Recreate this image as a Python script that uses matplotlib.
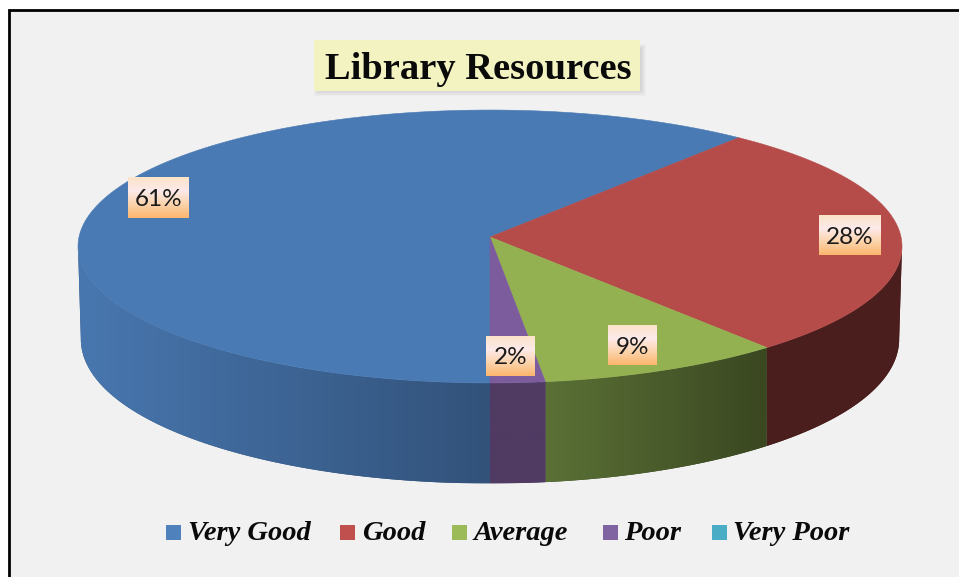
import numpy as np
import matplotlib
matplotlib.use('Agg')
import matplotlib.pyplot as plt
from matplotlib.colors import LinearSegmentedColormap
from matplotlib.patches import Polygon, Rectangle

title = 'Library Resources'
categories = ['Very Good', 'Good', 'Average', 'Poor', 'Very Poor']
values = [61, 28, 9, 2, 0]
top_colors = ['#4a7ab4', '#b54c49', '#94b152', '#7c5c9c', '#4bacc6']
legend_colors = ['#4f81bd', '#c0504d', '#9bbb59', '#8064a2', '#4bacc6']
# colour of the side wall, left end and right end of the gradient
side_colors = [('#4877af', '#32527a'), ('#4b1e1e', '#4b1e1e'), ('#5b7136', '#3a4721'),
               ('#503b63', '#503b63'), ('#4bacc6', '#4bacc6')]

# pie geometry in pixels (perspective ellipse)
CX, CY = 490, 237
A, B, K = 411, 135.8, 0.0696
START = 180

# where things sit in the picture
label_boxes = [(128, 177, 61, 41), (819, 215, 62, 40), (608, 325, 49, 40), (486, 336, 49, 40)]
legend_x = [166, 340, 452, 603, 712]
legend_text_x = [188, 362, 473, 624, 733]

plt.rcParams['font.family'] = ['Liberation Serif', 'DejaVu Sans']

fig = plt.figure(figsize=(9.59, 5.77), dpi=100, facecolor='white')
ax = fig.add_axes([0, 0, 1, 1])


def edge(theta, lower=False):
    # theta in degrees, clockwise from the back of the pie
    t = np.radians(theta)
    u, v = np.sin(t), -np.cos(t)
    w = 1 - K * v
    x, y = CX + A * u / w, CY + B * v / w
    if lower:
        # wall is a bit shorter and narrower towards the back
        x = CX + (x - CX) * (1 - 0.007 * np.abs(u) ** 6)
        y = y + 91.5 + 9 * v
    return x, y


def gradient(x0, y0, w, h, colors, horizontal=True, clip=None, zorder=3):
    cmap = LinearSegmentedColormap.from_list('g', colors)
    grad = np.linspace(0, 1, 256)
    grad = grad[None, :] if horizontal else grad[:, None]
    im = ax.imshow(grad, cmap=cmap, extent=(x0, x0 + w, y0 + h, y0), aspect='auto',
                   interpolation='bilinear', zorder=zorder)
    if clip is not None:
        im.set_clip_path(clip)
    return im


# background and frame
ax.add_patch(Rectangle((9, 10), 970, 590, fc='#f1f1f1', ec='black', lw=2, zorder=1))

# title box with its soft shadow
for i in range(6):
    ax.add_patch(Rectangle((314 + i, 44 + i), 332 - 2 * i, 52 - 2 * i, fc='black', ec='none',
                           alpha=0.018, zorder=2))
ax.add_patch(Rectangle((314, 40), 326, 51, fc='#f3f3c1', ec='none', zorder=2))
ax.text(478, 79, title, ha='center', va='baseline', fontsize=27.7, fontweight='bold',
        color='#0a0a0a', zorder=3)

# slice angles come from the values
shares = np.array(values) / sum(values) * 360
ends = START + np.cumsum(shares)
starts = ends - shares

# side walls, only the front part shows
front_a, front_b = 94, 266
for s, e, cols in zip(starts, ends, side_colors):
    lo, hi = max(s, front_a), min(e, front_b)
    lo2, hi2 = max(s - 360, front_a), min(e - 360, front_b)
    for a, b in [(lo, hi), (lo2, hi2)]:
        if b <= a:
            continue
        th = np.linspace(a, b, 120)
        tx, ty = edge(th)
        bx, by = edge(th[::-1], lower=True)
        xy = np.column_stack([np.r_[tx, bx], np.r_[ty, by]])
        poly = Polygon(xy, closed=True, fc=cols[1], ec='none', zorder=3)
        ax.add_patch(poly)
        x0, x1 = xy[:, 0].min(), xy[:, 0].max()
        gradient(x0, xy[:, 1].min(), x1 - x0, np.ptp(xy[:, 1]), [cols[0], cols[1]], clip=poly, zorder=3)

# top faces
for s, e, col, v in zip(starts, ends, top_colors, values):
    if v == 0:
        continue
    th = np.linspace(s, e, 300)
    tx, ty = edge(th)
    xy = np.column_stack([np.r_[CX, tx], np.r_[CY, ty]])
    ax.add_patch(Polygon(xy, closed=True, fc=col, ec=col, lw=0.4, zorder=4))

# data labels
for (x, y, w, h), v in zip(label_boxes, values):
    gradient(x, y, w, h, ['#fbe3c8', '#fdeaea', '#fbd3ab', '#fbb56d'], horizontal=False, zorder=5)
    ax.text(x + w / 2, y + h / 2 + 2, f'{v}%', ha='center', va='center', fontsize=17.5,
            family=['Lato', 'DejaVu Sans'], color='#1a1a1a', zorder=6)

# legend
for name, col, x, tx in zip(categories, legend_colors, legend_x, legend_text_x):
    ax.add_patch(Rectangle((x, 525), 15, 15, fc=col, ec='none', zorder=3))
    ax.text(tx, 540, name, ha='left', va='baseline', fontsize=20.5, fontweight='bold',
            fontstyle='italic', color='#0a0a0a', zorder=3)

ax.set_xlim(0, 959)
ax.set_ylim(577, 0)
ax.axis('off')

fig.savefig('out.png', dpi=100)
